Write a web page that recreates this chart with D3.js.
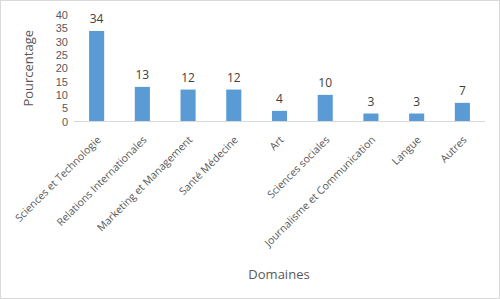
<!DOCTYPE html>
<html>
<head>
<meta charset="utf-8">
<script src="https://cdn.jsdelivr.net/npm/d3@7"></script>
<style>
  body { margin: 0; background: #fff; }
  svg { display: block; font-family: "Open Sans", "Liberation Sans", sans-serif; }
</style>
</head>
<body>
<svg id="chart" width="500" height="299"></svg>
<script>
// Chart data
const categories = ["Sciences et Technologie", "Relations Internationales", "Marketing et Management",
    "Santé Médecine", "Art", "Sciences sociales", "Journalisme et Communication", "Langue", "Autres"];
const values = [34, 13, 12, 12, 4, 10, 3, 3, 7];
const yTicks = [0, 5, 10, 15, 20, 25, 30, 35, 40];

const width = 500, height = 299;
const margin = { top: 15, right: 15, bottom: 178, left: 74 };

const svg = d3.select("#chart");

// Outer border
svg.append("rect")
    .attr("x", 0.5).attr("y", 0.5)
    .attr("width", width - 1).attr("height", height - 1)
    .attr("fill", "#fff").attr("stroke", "#d9d9d9");

const x = d3.scaleBand()
    .domain(categories)
    .range([margin.left, width - margin.right])
    .paddingInner(0.67).paddingOuter(0.33);

const y = d3.scaleLinear()
    .domain([0, 40])
    .range([height - margin.bottom + 0.5, margin.top]);

// Y axis (no line, just labels)
const yAxis = svg.append("g")
    .attr("transform", `translate(${margin.left},0)`)
    .call(d3.axisLeft(y).tickValues(yTicks).tickSize(0).tickPadding(6));
yAxis.select(".domain").remove();
yAxis.selectAll("text")
    .attr("fill", "#595959")
    .style("font-size", "11px");

// Bars
svg.selectAll("rect.bar")
    .data(values)
    .enter().append("rect")
    .attr("class", "bar")
    .attr("x", (d, i) => x(categories[i]))
    .attr("y", d => y(d))
    .attr("width", x.bandwidth())
    .attr("height", d => y(0) - y(d))
    .attr("fill", "#5b9bd5");

// Baseline
svg.append("line")
    .attr("x1", margin.left).attr("x2", width - margin.right)
    .attr("y1", y(0)).attr("y2", y(0))
    .attr("stroke", "#d9d9d9");

// Value labels
svg.selectAll("text.val")
    .data(values)
    .enter().append("text")
    .attr("class", "val")
    .attr("x", (d, i) => x(categories[i]) + x.bandwidth() / 2)
    .attr("y", d => y(d) - 8)
    .attr("text-anchor", "middle")
    .attr("fill", "#404040")
    .style("font-size", "12px")
    .text(d => d);

// Category labels rotated
svg.selectAll("text.cat")
    .data(categories)
    .enter().append("text")
    .attr("class", "cat")
    .attr("transform", d => `translate(${x(d) + x.bandwidth() / 2 + 5},${y(0) + 19}) rotate(-45)`)
    .attr("text-anchor", "end")
    .attr("fill", "#595959")
    .style("font-size", "10.5px")
    .text(d => d);

// Axis titles
svg.append("text")
    .attr("transform", `translate(33,${(y(0) + y(40)) / 2}) rotate(-90)`)
    .attr("text-anchor", "middle")
    .attr("fill", "#595959")
    .style("font-size", "13px")
    .text("Pourcentage");

svg.append("text")
    .attr("x", 279).attr("y", 279)
    .attr("text-anchor", "middle")
    .attr("fill", "#595959")
    .style("font-size", "13px")
    .text("Domaines");
</script>
</body>
</html>
